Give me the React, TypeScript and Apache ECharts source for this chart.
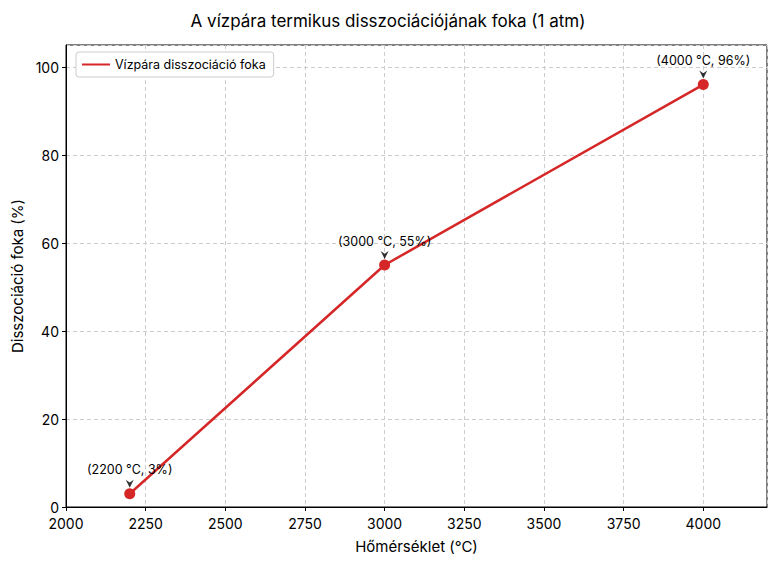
import { useEffect, useRef } from 'react';
import * as echarts from 'echarts';

const temperatures = [2200, 3000, 4000];
const degrees = [3, 55, 96];
const seriesName = 'Vízpára disszociáció foka';
const FONT = 'Inter, "Noto Sans", sans-serif';

const App = () => {
    const chartRef = useRef<HTMLDivElement>(null);

    useEffect(() => {
        if (!chartRef.current) return;
        const chart = echarts.init(chartRef.current, undefined, { renderer: 'svg' });

        const points = temperatures.map((t, i) => [t, degrees[i]]);

        chart.setOption({
            animation: false,
            textStyle: { fontFamily: FONT },
            title: {
                text: 'A vízpára termikus disszociációjának foka (1 atm)',
                left: 'center',
                top: 7,
                textStyle: { fontSize: 17, fontWeight: 'normal', color: '#000', fontFamily: FONT },
            },
            legend: {
                data: [seriesName],
                left: 76,
                top: 52,
                icon: 'rect',
                itemWidth: 28,
                itemHeight: 2,
                itemGap: 8,
                padding: [6, 8, 6, 6],
                borderColor: '#ccc',
                borderWidth: 1,
                borderRadius: 3,
                backgroundColor: '#fff',
                textStyle: { fontSize: 12.5, color: '#000', fontFamily: FONT },
            },
            grid: {
                left: 66,
                right: 9,
                top: 45,
                bottom: 57,
                show: true,
                borderColor: '#000',
                borderWidth: 1,
            },
            xAxis: {
                type: 'value',
                min: 2000,
                max: 4200,
                interval: 250,
                name: 'Hőmérséklet (°C)',
                nameLocation: 'middle',
                nameGap: 32,
                nameTextStyle: { fontSize: 15, color: '#000' },
                axisLine: { show: true, onZero: false, lineStyle: { color: '#000' } },
                axisTick: { show: true, length: 4, lineStyle: { color: '#000' } },
                axisLabel: {
                    fontSize: 14,
                    lineHeight: 14,
                    color: '#000',
                    margin: 9,
                    showMaxLabel: false,
                    formatter: (v: number) => String(v),
                },
                splitLine: { show: true, lineStyle: { type: [4, 3], color: '#ccc' } },
            },
            yAxis: {
                type: 'value',
                min: 0,
                max: 105,
                interval: 20,
                name: 'Disszociáció foka (%)',
                nameLocation: 'middle',
                nameGap: 38,
                nameTextStyle: { fontSize: 15, color: '#000' },
                axisLine: { show: true, lineStyle: { color: '#000' } },
                axisTick: { show: true, length: 4, lineStyle: { color: '#000' } },
                axisLabel: {
                    fontSize: 14,
                    lineHeight: 14,
                    color: '#000',
                    margin: 7,
                    showMaxLabel: false,
                    formatter: (v: number) => String(v),
                },
                splitLine: { show: true, lineStyle: { type: [4, 3], color: '#ccc' } },
            },
            series: [
                {
                    name: seriesName,
                    type: 'line',
                    data: points,
                    symbol: 'circle',
                    symbolSize: 11,
                    lineStyle: { color: '#d62728', width: 2.5 },
                    itemStyle: { color: '#d62728' },
                    label: {
                        show: true,
                        position: 'top',
                        distance: 12,
                        fontSize: 12.5,
                        color: '#000',
                        formatter: (p: any) => `(${p.value[0]} °C, ${p.value[1]}%)`,
                    },
                    z: 3,
                },
                {
                    name: 'arrows',
                    type: 'scatter',
                    data: points,
                    symbol: 'path://M0,0L5,3L10,0L5,9Z',
                    symbolSize: [8, 8],
                    symbolOffset: [0, -10],
                    itemStyle: { color: '#000' },
                    silent: true,
                    z: 4,
                },
            ],
        });

        return () => {
            chart.dispose();
        };
    }, []);

    return (
        <div
            ref={chartRef}
            style={{ position: 'fixed', left: 0, top: 0, width: '776px', height: '564px', background: '#fff' }}
        />
    );
};

export default App;
